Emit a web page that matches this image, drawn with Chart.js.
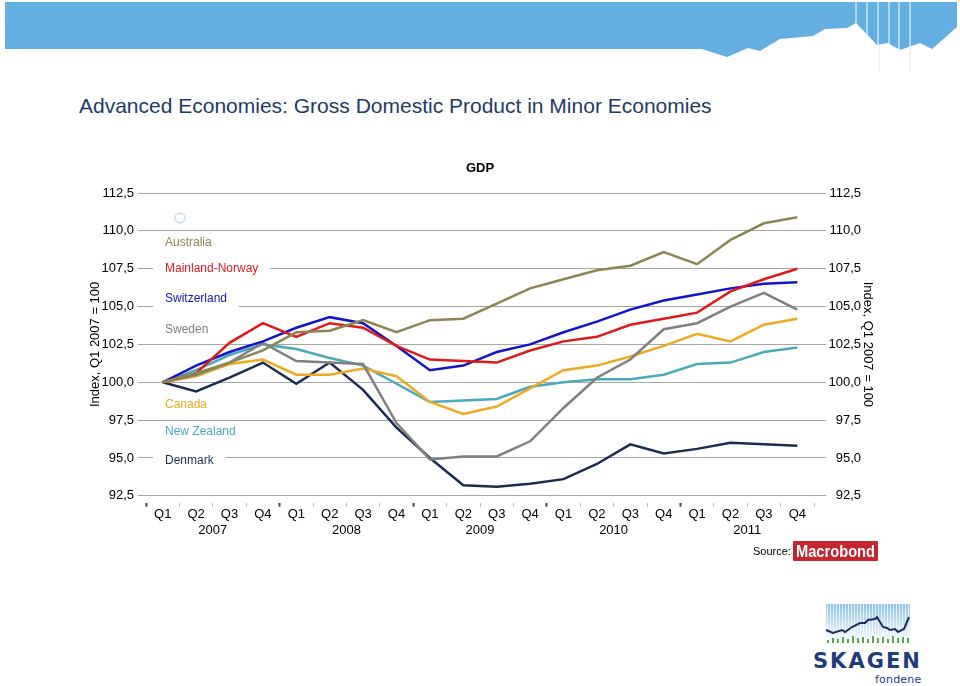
<!DOCTYPE html>
<html>
<head>
<meta charset="utf-8">
<script src="https://cdn.jsdelivr.net/npm/chart.js@4/dist/chart.umd.min.js"></script>
<style>
  body { margin: 0; background: #fff; width: 960px; height: 686px; overflow: hidden; position: relative; font-family: "Liberation Sans", Arial, sans-serif; }
  #head { position: absolute; left: 0; top: 0; }
  #title { position: absolute; left: 79px; top: 94px; font-size: 21px; color: #1f3a68; white-space: nowrap; }
  #chartBox { position: absolute; left: 0; top: 140px; width: 960px; height: 410px; }
  #source { position: absolute; left: 753px; top: 545px; font-size: 11px; color: #000; }
  #macro { position: absolute; left: 793px; top: 541px; }
  #logo { position: absolute; left: 800px; top: 595px; }
</style>
</head>
<body>
<svg id="head" width="960" height="80">
  <polygon fill="#63afe2" points="5,2 957,2 957,27 932,49 920,43 900,50 888,43 877,45 856,23 847,28 825,29 813,36 780,39 760,51 748,48 727,57 702,49 5,49"/>
  <g stroke="#ffffff" stroke-width="1">
    <line x1="856" y1="2" x2="856" y2="24"/><line x1="867" y1="2" x2="867" y2="35"/>
    <line x1="878" y1="2" x2="878" y2="46"/><line x1="889" y1="2" x2="889" y2="44"/>
    <line x1="899" y1="2" x2="899" y2="50"/><line x1="910" y1="2" x2="910" y2="47"/>
  </g>
  <g stroke="#e3e8ee" stroke-width="1">
    <line x1="879" y1="46" x2="879" y2="72"/><line x1="910" y1="47" x2="910" y2="72"/>
  </g>
</svg>
<div id="title">Advanced Economies: Gross Domestic Product in Minor Economies</div>
<div id="chartBox"><canvas id="myChart" width="960" height="410"></canvas></div>
<div id="source">Source:</div>
<svg id="macro" width="86" height="21">
  <rect x="0" y="0" width="85" height="20" rx="1" fill="#c3262e"/>
  <text x="3" y="16" font-family="Liberation Sans, Arial, sans-serif" font-weight="bold" font-size="17" fill="#fff" textLength="79" lengthAdjust="spacingAndGlyphs">Macrobond</text>
</svg>
<svg id="logo" width="140" height="91">
  <defs>
    <linearGradient id="sky" x1="0" y1="0" x2="0" y2="1">
      <stop offset="0" stop-color="#8fc2ea"/><stop offset="1" stop-color="#ffffff"/>
    </linearGradient>
    <pattern id="stripes" width="3" height="10" patternUnits="userSpaceOnUse">
      <rect x="0" y="0" width="1" height="10" fill="#ffffff" opacity="0.7"/>
    </pattern>
  </defs>
  <rect x="26" y="9" width="84" height="39" fill="url(#sky)"/>
  <rect x="26" y="9" width="84" height="39" fill="url(#stripes)"/>
  <g fill="#5aa64a">
    <rect x="27" y="45" width="2" height="3"/><rect x="32" y="43" width="2" height="5"/><rect x="37" y="44" width="2" height="4"/>
    <rect x="42" y="42" width="2" height="6"/><rect x="47" y="44" width="2" height="4"/><rect x="52" y="41" width="2" height="7"/>
    <rect x="57" y="43" width="2" height="5"/><rect x="62" y="42" width="2" height="6"/><rect x="67" y="44" width="2" height="4"/>
    <rect x="72" y="41" width="2" height="7"/><rect x="77" y="43" width="2" height="5"/><rect x="82" y="42" width="2" height="6"/>
    <rect x="87" y="44" width="2" height="4"/><rect x="92" y="41" width="2" height="7"/><rect x="97" y="43" width="2" height="5"/>
    <rect x="102" y="42" width="2" height="6"/><rect x="107" y="43" width="2" height="5"/>
  </g>
  <polyline fill="none" stroke="#1c2f5a" stroke-width="2" points="26,35 33,38 42,35 45,37 52,32 60,28 65,28 68,25 75,24 77,22 83,32 87,33 90,35 95,34 98,37 104,34 109,22"/>
  <text x="13" y="73" font-family="DejaVu Sans, sans-serif" font-weight="bold" font-size="21" letter-spacing="2" fill="#1d3d7a">SKAGEN</text>
  <text x="75" y="88" font-family="DejaVu Sans, sans-serif" font-size="11" letter-spacing="0.2" fill="#1d3d7a">fondene</text>
</svg>
<script>
// quarters on the x axis, years under them
const quarters = ['Q1','Q2','Q3','Q4','Q1','Q2','Q3','Q4','Q1','Q2','Q3','Q4','Q1','Q2','Q3','Q4','Q1','Q2','Q3','Q4'];
const years = ['2007','2008','2009','2010','2011'];

// GDP index, Q1 2007 = 100
const australia   = [100, 100.6, 101.3, 102.1, 103.3, 103.4, 104.1, 103.3, 104.1, 104.2, 105.2, 106.2, 106.8, 107.4, 107.7, 108.6, 107.8, 109.4, 110.5, 110.9];
const norway      = [100, 100.6, 102.6, 103.9, 103.0, 103.9, 103.6, 102.4, 101.5, 101.4, 101.3, 102.1, 102.7, 103.0, 103.8, 104.2, 104.6, 106.0, 106.8, 107.5];
const switzerland = [100, 101.1, 102.0, 102.7, 103.6, 104.3, 103.9, 102.4, 100.8, 101.1, 102.0, 102.5, 103.3, 104.0, 104.8, 105.4, 105.8, 106.2, 106.5, 106.6];
const sweden      = [100, 100.5, 101.3, 102.6, 101.4, 101.3, 101.2, 97.3, 94.9, 95.1, 95.1, 96.1, 98.3, 100.3, 101.5, 103.5, 103.9, 105.0, 105.9, 104.8];
const canada      = [100, 100.4, 101.2, 101.5, 100.5, 100.5, 100.9, 100.4, 98.7, 97.9, 98.4, 99.6, 100.8, 101.1, 101.7, 102.4, 103.2, 102.7, 103.8, 104.2];
const newZealand  = [100, 100.8, 101.8, 102.5, 102.2, 101.6, 101.1, 99.9, 98.7, 98.8, 98.9, 99.7, 100.0, 100.2, 100.2, 100.5, 101.2, 101.3, 102.0, 102.3];
const denmark     = [100, 99.4, 100.3, 101.3, 99.9, 101.3, 99.5, 97.0, 95.0, 93.2, 93.1, 93.3, 93.6, 94.6, 95.9, 95.3, 95.6, 96.0, 95.9, 95.8];

const seriesNames = ['Australia', 'Mainland-Norway', 'Switzerland', 'Sweden', 'Canada', 'New Zealand', 'Denmark'];
const seriesData = [australia, norway, switzerland, sweden, canada, newZealand, denmark];
const seriesColors = ['#8c8653', '#e0191b', '#1414c8', '#808080', '#eeaa22', '#4aaaba', '#1b2d4f'];

const FONT = 'Liberation Sans, Arial, sans-serif';
const chartTitle = 'GDP';
const axisTitle = 'Index, Q1 2007 = 100';
function fmt(v) { return Number(v).toFixed(1).replace('.', ','); }

// text labels in the plot, where the original put them (y offset from plot top)
const labelRows = [50, 76, 106, 137, 212, 239, 268];
const labelPlugin = {
  id: 'labels',
  beforeDatasetsDraw(chart) {
    const ctx = chart.ctx;
    const a = chart.chartArea;
    ctx.save();
    ctx.font = '12px ' + FONT;
    ctx.textBaseline = 'middle';
    for (let i = 0; i < seriesNames.length; i++) {
      const x = a.left + 19;
      const y = a.top + labelRows[i];
      const w = ctx.measureText(seriesNames[i]).width;
      ctx.fillStyle = '#fff';
      ctx.fillRect(x - 12, y - 8, w + 24, 16);
      ctx.fillStyle = seriesColors[i];
      ctx.fillText(seriesNames[i], x, y);
    }
    ctx.strokeStyle = '#a9d2e4';
    ctx.lineWidth = 1;
    ctx.beginPath();
    ctx.arc(a.left + 34, a.top + 25, 5, 0, Math.PI * 2);
    ctx.stroke();
    // chart title centred over the plot
    ctx.font = 'bold 13px ' + FONT;
    ctx.fillStyle = '#000';
    ctx.textAlign = 'center';
    ctx.fillText(chartTitle, (a.left + a.right) / 2, a.top - 25);
    // right hand axis title sits just past the tick labels
    const r = chart.scales.y2;
    ctx.translate(r.right + 7, (a.top + a.bottom) / 2);
    ctx.rotate(Math.PI / 2);
    ctx.font = '13px ' + FONT;
    ctx.fillText(axisTitle, 0, 0);
    ctx.restore();
  }
};

const datasets = seriesData.map((d, i) => ({
  label: seriesNames[i],
  data: d,
  borderColor: seriesColors[i],
  borderWidth: 2.5,
  pointRadius: 0,
  tension: 0,
  fill: false
}));

const yTicks = { stepSize: 2.5, callback: fmt, color: '#000', font: { family: FONT, size: 13 } };

new Chart(document.getElementById('myChart'), {
  type: 'line',
  data: { labels: quarters, datasets: datasets },
  options: {
    responsive: false,
    animation: false,
    layout: { padding: { left: 84, right: 99, top: 53, bottom: 12 } },
    plugins: {
      legend: { display: false },
      tooltip: { enabled: false },
      title: { display: false }
    },
    scales: {
      x: {
        type: 'category',
        offset: true,
        border: { display: false },
        grid: {
          offset: true,
          drawOnChartArea: false,
          tickLength: 11,
          tickBorderDash: [0, 7, 5, 100],
          tickColor: c => c.index >= 20 ? 'rgba(0,0,0,0)' : (c.index % 4 === 0 ? '#444' : '#bbb'),
          tickWidth: c => c.index % 4 === 0 ? 2 : 1
        },
        ticks: { padding: 0, autoSkip: false, maxRotation: 0, color: '#000', font: { family: FONT, size: 13 } }
      },
      x2: {
        type: 'category',
        labels: years,
        offset: true,
        position: 'bottom',
        border: { display: false },
        grid: { display: false, drawTicks: false },
        ticks: { padding: 0, maxRotation: 0, color: '#000', font: { family: FONT, size: 13 } }
      },
      y: {
        position: 'left',
        min: 92.5, max: 112.5,
        border: { display: false },
        grid: { color: '#a6a6a6', tickLength: 8 },
        ticks: Object.assign({ padding: 4 }, yTicks),
        title: { display: true, text: axisTitle, color: '#000', font: { family: FONT, size: 13 }, padding: { top: 4, bottom: 0 } },
        afterFit: s => { s.width = 62; }
      },
      y2: {
        position: 'right',
        min: 92.5, max: 112.5,
        border: { display: false },
        grid: { drawOnChartArea: false, color: '#a6a6a6', tickLength: 12 },
        ticks: Object.assign({ crossAlign: 'far', padding: 0 }, yTicks),
        afterFit: s => { s.width = 47; }
      }
    }
  },
  plugins: [labelPlugin]
});
</script>
</body>
</html>
